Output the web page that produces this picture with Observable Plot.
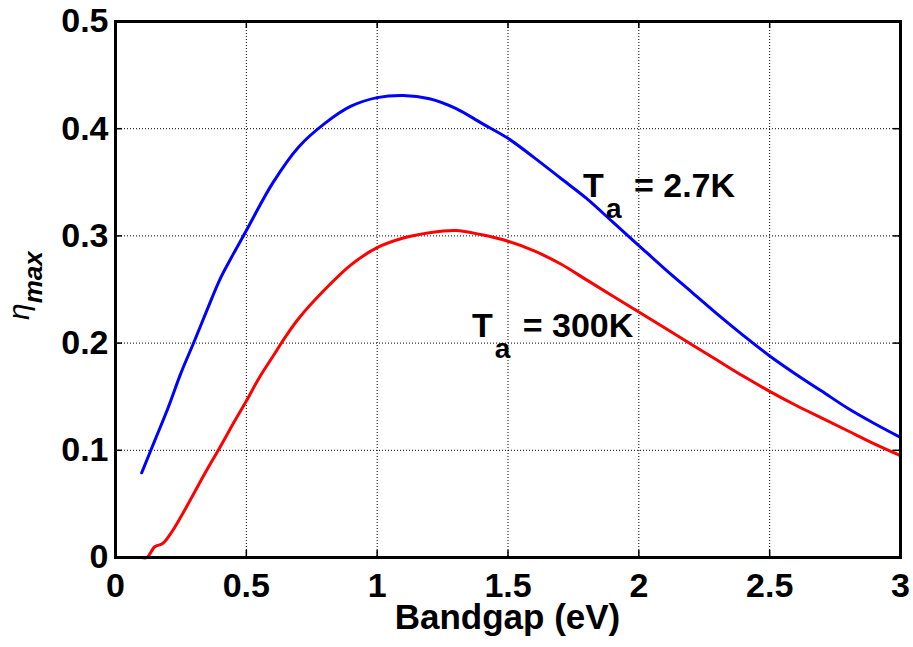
<!DOCTYPE html>
<html><head><meta charset="utf-8">
<script src="https://cdn.jsdelivr.net/npm/d3@7"></script>
<script src="https://cdn.jsdelivr.net/npm/@observablehq/plot@0.6"></script>
<style>body{margin:0;background:#fff} svg text{white-space:pre}</style>
</head><body><div id="chart"></div>
<script>
// Bandgap (eV) and eta_max for Ta = 2.7K (blue)
const blueX = [0.1,0.15,0.2,0.25,0.3,0.35,0.4,0.45,0.5,0.6,0.7,0.8,0.9,1.0,1.1,1.2,1.3,1.4,1.5,1.6,1.7,1.8,1.9,2.0,2.1,2.2,2.3,2.4,2.5,2.6,2.7,2.8,2.9,3.0];
const blueY = [0.079,0.109,0.139,0.172,0.201,0.231,0.260,0.283,0.305,0.349,0.383,0.405,0.421,0.429,0.431,0.428,0.419,0.405,0.391,0.373,0.354,0.335,0.313,0.291,0.269,0.248,0.227,0.207,0.188,0.171,0.155,0.139,0.125,0.112];
// Ta = 300K (red)
const redX = [0.1,0.12,0.15,0.18,0.21,0.25,0.3,0.35,0.4,0.45,0.5,0.55,0.6,0.65,0.7,0.8,0.9,1.0,1.1,1.2,1.3,1.4,1.5,1.6,1.7,1.8,1.9,2.0,2.1,2.2,2.3,2.4,2.5,2.6,2.7,2.8,2.9,3.0];
const redY = [0.0,0.0,0.010,0.013,0.022,0.038,0.060,0.082,0.103,0.125,0.146,0.168,0.187,0.206,0.223,0.250,0.273,0.289,0.298,0.303,0.305,0.301,0.295,0.286,0.274,0.259,0.244,0.229,0.214,0.199,0.184,0.169,0.155,0.142,0.130,0.118,0.106,0.095];

const xTicks = [0,0.5,1,1.5,2,2.5,3];
const xTickLabels = ["0","0.5","1","1.5","2","2.5","3"];
const yTicks = [0,0.1,0.2,0.3,0.4,0.5];
const yTickLabels = ["0","0.1","0.2","0.3","0.4","0.5"];

const seriesNames = ["2.7K","300K"];
const seriesColors = ["#0000ff","#ff0000"];
// annotation anchors (data coords)
const annX = [1.789, 1.364];
const annY = [0.3356, 0.205];

const rows = [
  ...blueX.map((x,i)=>({x, y: blueY[i], s: seriesNames[0]})),
  ...redX.map((x,i)=>({x, y: redY[i], s: seriesNames[1]}))
];

const tickStyle = {stroke:"black", strokeWidth:1.5};
const plot = Plot.plot({
  width: 913, height: 647,
  marginLeft: 115, marginRight: 13, marginTop: 21, marginBottom: 90,
  x: {domain: [0, 3]},
  y: {domain: [0, 0.5]},
  color: {domain: seriesNames, range: seriesColors},
  style: {fontFamily: "'Liberation Sans', Arial, sans-serif", fontSize: "34px", fontWeight: "bold", background: "white", color: "black"},
  marks: [
    Plot.gridX(xTicks, {stroke: "black", strokeOpacity: 1, strokeDasharray: "1,2", strokeWidth: 1}),
    Plot.gridY(yTicks, {stroke: "black", strokeOpacity: 1, strokeDasharray: "1,2", strokeWidth: 1}),
    Plot.ruleX(xTicks, {x: d => d, y1: 0, y2: 0, insetTop: -7, ...tickStyle}),
    Plot.ruleX(xTicks, {x: d => d, y1: 0.5, y2: 0.5, insetBottom: -7, ...tickStyle}),
    Plot.ruleY(yTicks, {y: d => d, x1: 0, x2: 0, insetRight: -7, ...tickStyle}),
    Plot.ruleY(yTicks, {y: d => d, x1: 3, x2: 3, insetLeft: -7, ...tickStyle}),
    Plot.line(rows, {x: "x", y: "y", z: "s", stroke: "s", strokeWidth: 3, curve: "catmull-rom"}),
    Plot.axisX(xTicks, {tickSize: 0, tickPadding: 15, tickFormat: d => xTickLabels[xTicks.indexOf(d)], label: null, fontSize: 34, fontWeight: "bold"}),
    Plot.axisY(yTicks, {tickSize: 0, tickPadding: 7, tickFormat: d => yTickLabels[yTicks.indexOf(d)], label: null, fontSize: 34, fontWeight: "bold"}),
    Plot.frame({stroke: "black", strokeWidth: 3})
  ]
});

const sx = plot.scale("x"), sy = plot.scale("y");
const svg = d3.select(plot);
const font = "'Liberation Sans', Arial, sans-serif";

// series annotations T_a = ...
seriesNames.forEach((name, i) => {
  const t = svg.append("text")
    .attr("x", sx.apply(annX[i])).attr("y", sy.apply(annY[i]))
    .attr("text-anchor", "start")
    .attr("font-family", font).attr("font-weight", "bold").attr("font-size", 34).attr("fill", "black");
  t.append("tspan").text("T");
  t.append("tspan").attr("dx", 2).attr("dy", 21).attr("font-size", 28).text("a");
  t.append("tspan").attr("dx", 3).attr("dy", -21).text(" = " + name);
});

// x label
svg.append("text")
  .attr("x", (sx.apply(0) + sx.apply(3)) / 2).attr("y", 629)
  .attr("text-anchor", "middle")
  .attr("font-family", font).attr("font-weight", "bold").attr("font-size", 35).attr("fill", "black")
  .text("Bandgap (eV)");

// y label eta_max
const yl = svg.append("text")
  .attr("transform", "translate(29,320) rotate(-90)")
  .attr("text-anchor", "start")
  .attr("font-family", font).attr("fill", "black");
yl.append("tspan").attr("font-style", "italic").attr("font-weight", "normal").attr("font-size", 30).text("η");
yl.append("tspan").attr("dy", 13).attr("font-style", "italic").attr("font-weight", "bold").attr("font-size", 26).text("max");

document.getElementById("chart").appendChild(plot);
</script>
</body></html>
